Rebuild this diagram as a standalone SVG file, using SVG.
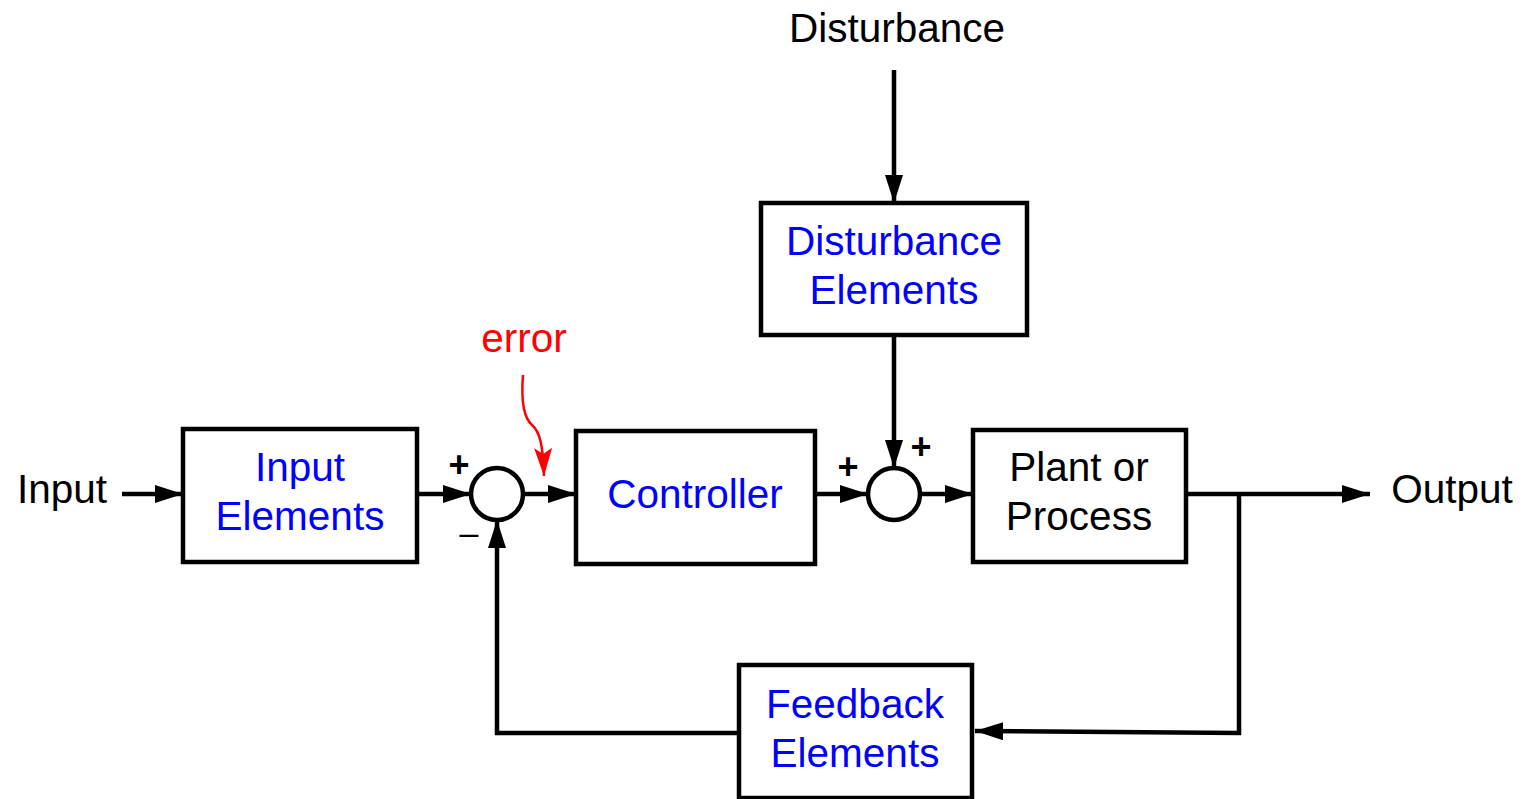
<svg xmlns="http://www.w3.org/2000/svg" width="1523" height="799" viewBox="0 0 1523 799">
<style>
.box{fill:#fff;stroke:#000;stroke-width:4.5}
.ln{fill:none;stroke:#000;stroke-width:4.5}
.t{font-family:"Liberation Sans",Arial,sans-serif;font-size:40.5px;text-anchor:middle}
.blue{fill:#0000ff}
.blk{fill:#000}
.sgn{font-family:"Liberation Sans",Arial,sans-serif;font-size:36px;font-weight:bold;text-anchor:middle;fill:#000}
.mns{font-family:"Liberation Sans",Arial,sans-serif;font-size:34px;text-anchor:middle;fill:#000}
</style>
<defs>
<marker id="ah" markerWidth="28" markerHeight="18" refX="28" refY="9" orient="auto" markerUnits="userSpaceOnUse">
<path d="M0,0 L28,9 L0,18 Z" fill="#000"/>
</marker>
<marker id="ahr" markerWidth="28" markerHeight="18" refX="28" refY="9" orient="auto" markerUnits="userSpaceOnUse">
<path d="M0,0 L28,9 L0,18 L6,9 Z" fill="#ff0000"/>
</marker>
</defs>
<g id="connectors">
<line class="ln" x1="122" y1="494" x2="183" y2="494" marker-end="url(#ah)"/>
<line class="ln" x1="417" y1="494" x2="471" y2="494" marker-end="url(#ah)"/>
<line class="ln" x1="523" y1="494" x2="576" y2="494" marker-end="url(#ah)"/>
<line class="ln" x1="815" y1="494" x2="868" y2="494" marker-end="url(#ah)"/>
<line class="ln" x1="920" y1="494" x2="973" y2="494" marker-end="url(#ah)"/>
<line class="ln" x1="894" y1="70" x2="894" y2="203" marker-end="url(#ah)"/>
<line class="ln" x1="894" y1="335" x2="894" y2="468" marker-end="url(#ah)"/>
<line class="ln" x1="1186" y1="494" x2="1370" y2="494" marker-end="url(#ah)"/>
<polyline class="ln" points="1239,494 1239,733 975,731" marker-end="url(#ah)"/>
<polyline class="ln" points="739,733 497,733 497,520" marker-end="url(#ah)"/>
<path d="M523,375 C521,400 524,418 532,425 C540,432 543,445 544,476" fill="none" stroke="#ff0000" stroke-width="2.5" marker-end="url(#ahr)"/>
</g>
<g id="input-label"><text class="t blk" x="62" y="503">Input</text></g>
<g id="disturbance-label"><text class="t blk" x="897" y="42">Disturbance</text></g>
<g id="output-label"><text class="t blk" x="1452" y="503">Output</text></g>
<g id="error-label"><text class="t" fill="#ff0000" x="524" y="352">error</text></g>
<g id="input-elements">
<rect class="box" x="183" y="429" width="234" height="133"/>
<text class="t blue" x="300" y="481">Input</text>
<text class="t blue" x="300" y="530">Elements</text>
</g>
<g id="sum1">
<circle class="box" cx="497" cy="494" r="26"/>
<text class="sgn" x="459" y="477">+</text>
<text class="mns" x="469" y="544">–</text>
</g>
<g id="controller">
<rect class="box" x="576" y="431" width="239" height="133"/>
<text class="t blue" x="695" y="508">Controller</text>
</g>
<g id="sum2">
<circle class="box" cx="894" cy="494" r="26"/>
<text class="sgn" x="848" y="479">+</text>
<text class="sgn" x="921" y="459">+</text>
</g>
<g id="plant">
<rect class="box" x="973" y="430" width="213" height="132"/>
<text class="t blk" x="1079" y="481">Plant or</text>
<text class="t blk" x="1079" y="530">Process</text>
</g>
<g id="disturbance-elements">
<rect class="box" x="761" y="203" width="266" height="132"/>
<text class="t blue" x="894" y="255">Disturbance</text>
<text class="t blue" x="894" y="304">Elements</text>
</g>
<g id="feedback-elements">
<rect class="box" x="739" y="665" width="233" height="133"/>
<text class="t blue" x="855" y="718">Feedback</text>
<text class="t blue" x="855" y="767">Elements</text>
</g>
</svg>
